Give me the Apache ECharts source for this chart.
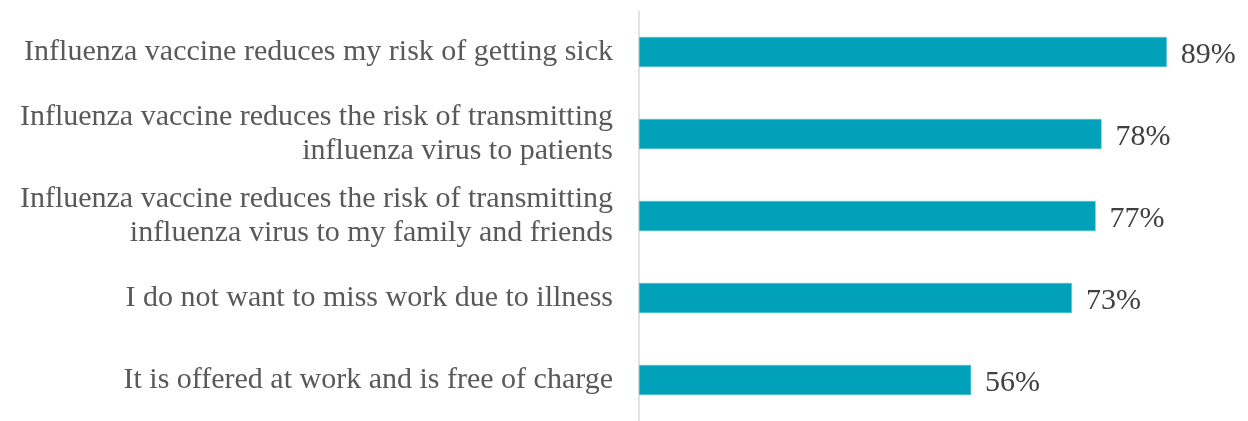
<!DOCTYPE html>
<html>
<head>
<meta charset="utf-8">
<script src="https://cdn.jsdelivr.net/npm/echarts@6/dist/echarts.min.js"></script>
<style>
  html, body { margin: 0; padding: 0; background: #fff; }
  #chart { width: 1248px; height: 421px; }
</style>
</head>
<body>
<div id="chart"></div>
<script>
// 类别（从上到下）
var categories = [
  'Influenza vaccine reduces my risk of getting sick',
  'Influenza vaccine reduces the risk of transmitting\ninfluenza virus to patients',
  'Influenza vaccine reduces the risk of transmitting\ninfluenza virus to my family and friends',
  'I do not want to miss work due to illness',
  'It is offered at work and is free of charge'
];
var values = [89, 78, 77, 73, 56];

var chart = echarts.init(document.getElementById('chart'));
chart.setOption({
  animation: false,
  grid: { left: 639, right: 16, top: 11, height: 416 },
  xAxis: {
    type: 'value',
    min: 0,
    max: 100,
    show: false
  },
  yAxis: {
    type: 'category',
    inverse: true,
    data: categories,
    axisLine: { show: true, lineStyle: { color: '#d9d9d9', width: 1.5 } },
    axisTick: { show: false },
    axisLabel: {
      margin: 26,
      color: '#595959',
      fontFamily: 'Liberation Serif',
      fontSize: 30,
      lineHeight: 34,
      padding: [5, 0, 0, 0],
      align: 'right'
    }
  },
  series: [{
    type: 'bar',
    data: values,
    barWidth: 30,
    itemStyle: { color: '#00a1b9', borderColor: '#5cc6d6', borderWidth: 0.5 },
    label: {
      show: true,
      position: 'right',
      distance: 14,
      offset: [0, 3],
      formatter: '{c}%',
      color: '#404040',
      fontFamily: 'Liberation Serif',
      fontSize: 30
    }
  }]
});
</script>
</body>
</html>
